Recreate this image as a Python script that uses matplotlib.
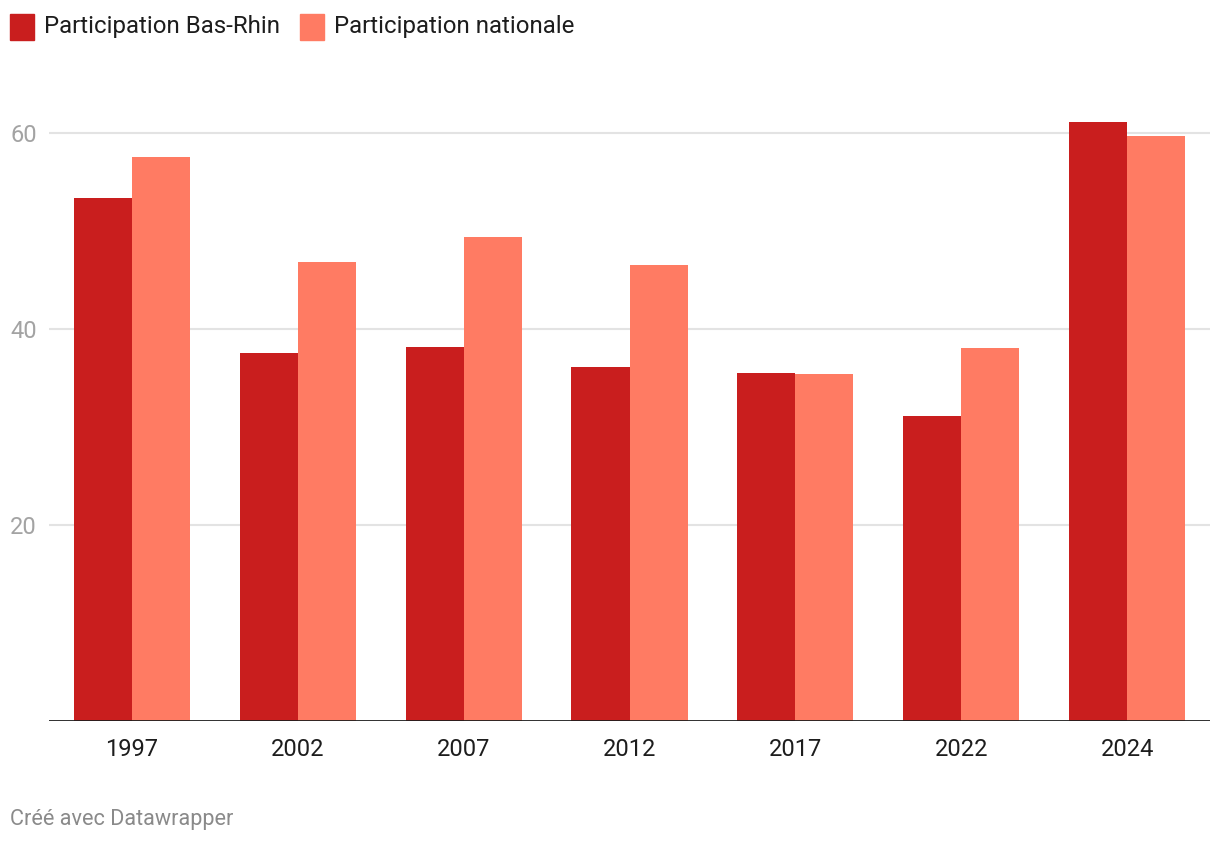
import matplotlib

matplotlib.use("Agg")
import matplotlib.pyplot as plt  # noqa: E402
import matplotlib.transforms as mtransforms  # noqa: E402
import numpy as np  # noqa: E402
from matplotlib.patches import Rectangle  # noqa: E402

years = ["1997", "2002", "2007", "2012", "2017", "2022", "2024"]
bas_rhin = [53.4, 37.6, 38.2, 36.1, 35.5, 31.1, 61.1]
nationale = [57.6, 46.8, 49.4, 46.5, 35.4, 38.1, 59.7]
series_labels = ["Participation Bas-Rhin", "Participation nationale"]
yticks = [20, 40, 60]

DARK = "#c91e1e"
LIGHT = "#ff7b63"

plt.rcParams["font.family"] = ["Roboto", "DejaVu Sans"]

W, H = 1220, 844
fig = plt.figure(figsize=(W / 100, H / 100), dpi=100)
ax = fig.add_axes((49 / W, 123 / H, 1161 / W, 637 / H))

x = np.arange(len(years))
bw = 0.35
ax.bar(x - bw / 2, bas_rhin, bw, color=DARK, zorder=3)
ax.bar(x + bw / 2, nationale, bw, color=LIGHT, zorder=3)

ax.set_xlim(-0.5, len(years) - 0.5)
ax.set_ylim(0, 65)
label_tr = mtransforms.blended_transform_factory(fig.transFigure, ax.transData)
label_tr = label_tr + mtransforms.ScaledTranslation(0, -3 / 100, fig.dpi_scale_trans)
for v in yticks:
    ax.axhline(v, color="#e3e3e3", lw=1.5, zorder=1)
    ax.text(10 / W, v, str(v), transform=label_tr, ha="left", va="center",
            fontsize=17, color="#a3a3a3", clip_on=False)
ax.axhline(0, color="#1d1d1d", lw=2, zorder=4)

ax.set_xticks(x)
ax.set_xticklabels(years, fontsize=17, color="#1d1d1d")
ax.tick_params(axis="x", length=0, pad=12)
ax.set_yticks([])
for s in ax.spines.values():
    s.set_visible(False)

# legend
for sx, tx, lab, col in [(10, 44, series_labels[0], DARK), (300, 334, series_labels[1], LIGHT)]:
    fig.patches.append(Rectangle((sx / W, 1 - 40 / H), 24 / W, 26 / H, transform=fig.transFigure,
                                 color=col, figure=fig))
    fig.text(tx / W, 1 - 27 / H, lab, ha="left", va="center", fontsize=17.3, color="#1d1d1d")

fig.text(10 / W, 1 - 820 / H, "Créé avec Datawrapper", ha="left", va="center",
         fontsize=15.6, color="#8a8a8a")

fig.savefig("out.png", dpi=100, facecolor="white")
